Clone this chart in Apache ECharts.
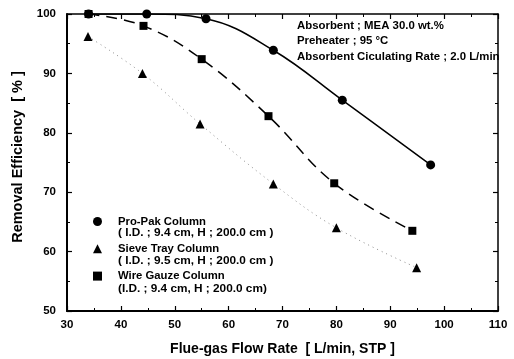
<!DOCTYPE html>
<html>
<head>
<meta charset="utf-8">
<script src="https://cdn.jsdelivr.net/npm/echarts@6/dist/echarts.min.js"></script>
<style>
  html, body { margin: 0; padding: 0; background: #fff; }
  #chart { width: 514px; height: 359px; }
</style>
</head>
<body>
<div id="chart"></div>
<script>
  // data: [flow rate, removal efficiency]
  var proPak = [[34, 100], [44.8, 100], [55.8, 99.2], [68.3, 93.9], [81.1, 85.5], [97.5, 74.6]];
  var sieveTray = [[33.9, 96.2], [44.0, 90.0], [54.7, 81.5], [68.3, 71.4], [80.0, 64.0], [94.9, 57.3]];
  var wireGauze = [[34, 100], [44.2, 98.0], [55.0, 92.4], [67.4, 82.8], [79.6, 71.5], [94.1, 63.5]];

  var seriesNames = ['Pro-Pak Column', 'Sieve Tray Column', 'Wire Gauze Column'];
  var seriesDetails = ['( I.D. ; 9.4 cm, H ; 200.0 cm )', '( I.D. ; 9.5 cm, H ; 200.0 cm )', '(I.D. ; 9.4 cm, H ; 200.0 cm)'];
  var notes = ['Absorbent ; MEA 30.0 wt.%', 'Preheater ; 95 \u00b0C', 'Absorbent Ciculating Rate ; 2.0 L/min'];

  var font = 'Liberation Sans, Arial, sans-serif';
  var chart = echarts.init(document.getElementById('chart'));

  var axisLine = { show: true, onZero: false, lineStyle: { color: '#000', width: 2 } };
  var tick = { show: true, inside: true, length: 5, lineStyle: { color: '#000', width: 1.2 } };
  var minor = { show: true, splitNumber: 2, length: 3, lineStyle: { color: '#000', width: 1 } };

  chart.setOption({
    animation: false,
    grid: { left: 67, right: 16, top: 14, bottom: 48, outerBoundsMode: 'none' },
    xAxis: [
      {
        type: 'value', min: 30, max: 110, interval: 10,
        name: 'Flue-gas Flow Rate  [ L/min, STP ]',
        nameLocation: 'middle', nameGap: 31,
        nameTextStyle: { fontFamily: font, fontWeight: 'bold', fontSize: 14, color: '#000' },
        axisLine: axisLine, axisTick: tick, minorTick: minor,
        splitLine: { show: false },
        axisLabel: { fontFamily: font, fontWeight: 'bold', fontSize: 11.5, color: '#000', margin: 8 }
      },
      {
        type: 'value', min: 30, max: 110, interval: 10, position: 'top',
        axisLine: { show: true, onZero: false, lineStyle: { color: '#000', width: 1.5 } },
        axisTick: tick, minorTick: minor,
        splitLine: { show: false }, axisLabel: { show: false }
      }
    ],
    yAxis: [
      {
        type: 'value', min: 50, max: 100, interval: 10,
        name: 'Removal Efficiency  [ % ]',
        nameLocation: 'middle', nameGap: 41,
        nameTextStyle: {
          fontFamily: font, fontWeight: 'bold', fontSize: 14.5, color: '#000',
          padding: [0, 0, 0, 11]
        },
        axisLine: axisLine, axisTick: tick, minorTick: minor,
        splitLine: { show: false },
        axisLabel: { fontFamily: font, fontWeight: 'bold', fontSize: 11.5, color: '#000', margin: 11 }
      },
      {
        type: 'value', min: 50, max: 100, interval: 10, position: 'right',
        axisLine: { show: true, onZero: false, lineStyle: { color: '#000', width: 1.5 } },
        axisTick: tick, minorTick: minor,
        splitLine: { show: false }, axisLabel: { show: false }
      }
    ],
    legend: {
      orient: 'vertical', left: 93, top: 214.5,
      itemWidth: 9, itemHeight: 9, itemGap: 13.3, padding: 0,
      textStyle: {
        fontFamily: font, fontWeight: 'bold', fontSize: 11.3, color: '#000',
        lineHeight: 14, padding: [0, 0, 0, 11]
      },
      data: [
        { name: seriesNames[0], icon: 'circle' },
        { name: seriesNames[1], icon: 'triangle' },
        { name: seriesNames[2], icon: 'rect' }
      ]
    },
    graphic: notes.map(function (t, i) {
      return {
        type: 'text', left: 297, top: 20 + i * 15.5,
        style: { text: t, fill: '#000', font: 'bold 11.4px ' + font }
      };
    }).concat(seriesDetails.map(function (t, i) {
      return {
        type: 'text', left: 118, top: 227 + i * 28,
        style: { text: t, fill: '#000', font: 'bold 11.8px ' + font }
      };
    })),
    series: [
      {
        name: seriesNames[0], type: 'line', data: proPak,
        smooth: 0.4,
        symbol: 'circle', symbolSize: 9,
        itemStyle: { color: '#000' },
        lineStyle: { color: '#000', width: 1.5 }
      },
      {
        name: seriesNames[1], type: 'line', data: sieveTray,
        smooth: 0.4,
        symbol: 'triangle', symbolSize: 9,
        itemStyle: { color: '#000' },
        lineStyle: { color: '#888', width: 1, type: [1, 4] }
      },
      {
        name: seriesNames[2], type: 'line', data: wireGauze,
        smooth: 0.4,
        symbol: 'rect', symbolSize: 8,
        itemStyle: { color: '#000' },
        lineStyle: { color: '#000', width: 1.5, type: [11, 7] }
      }
    ]
  });
</script>
</body>
</html>
